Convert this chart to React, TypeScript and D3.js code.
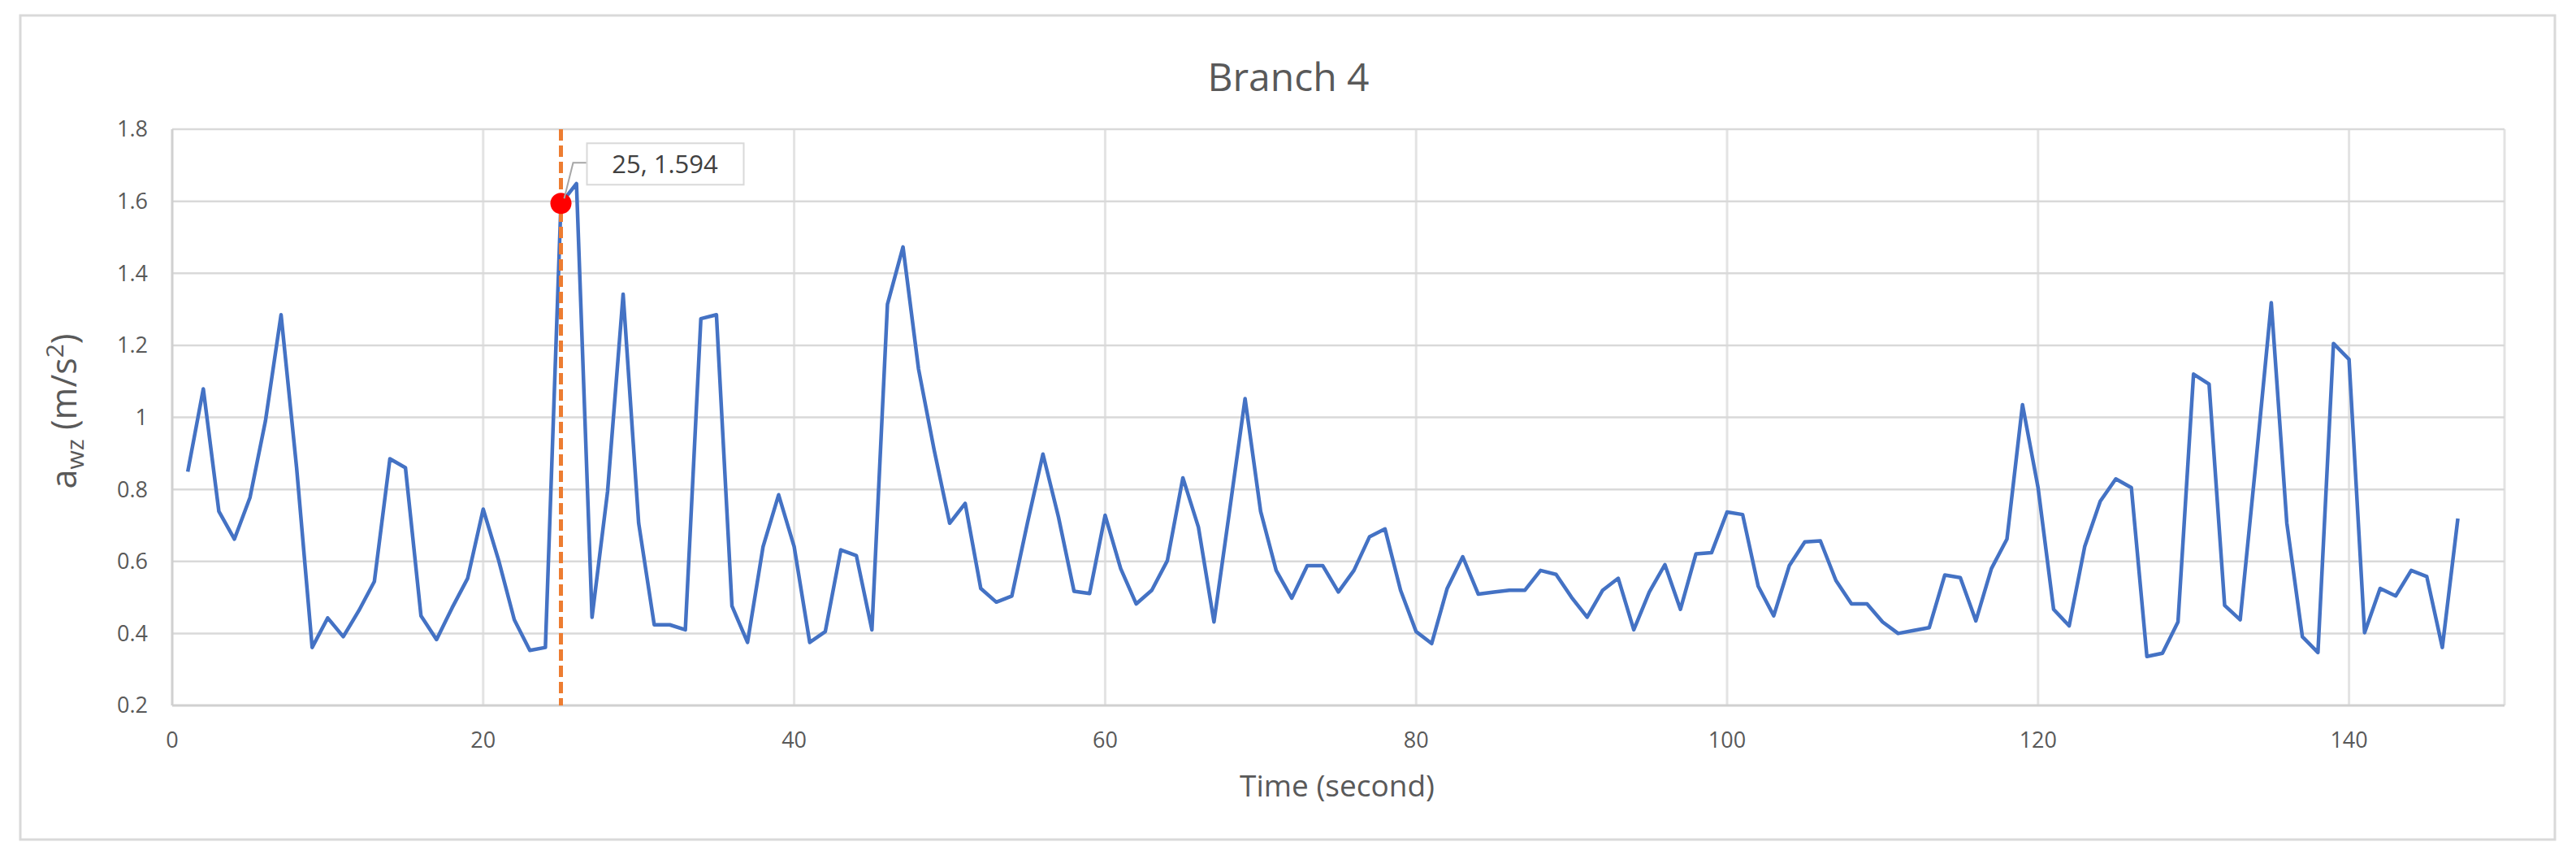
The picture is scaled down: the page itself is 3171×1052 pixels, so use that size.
import { useEffect, useRef } from "react";
import * as d3 from "d3";

// a_wz readings, one per second (t = 1 .. 147)
const awz = [
  0.849, 1.079, 0.739, 0.662, 0.777, 0.991, 1.285, 0.86, 0.361, 0.443,
  0.391, 0.463, 0.544, 0.885, 0.86, 0.449, 0.383, 0.471, 0.553, 0.745,
  0.602, 0.438, 0.353, 0.361, 1.594, 1.649, 0.445, 0.794, 1.342, 0.706,
  0.424, 0.424, 0.41, 1.274, 1.285, 0.476, 0.375, 0.641, 0.785, 0.641,
  0.375, 0.405, 0.632, 0.616, 0.41, 1.314, 1.473, 1.134, 0.91, 0.706,
  0.761, 0.525, 0.487, 0.504, 0.706, 0.898, 0.723, 0.517, 0.511, 0.728,
  0.58, 0.482, 0.52, 0.602, 0.832, 0.695, 0.432, 0.74, 1.052, 0.739,
  0.575, 0.498, 0.588, 0.588, 0.515, 0.575, 0.668, 0.69, 0.52, 0.405,
  0.372, 0.525, 0.613, 0.509, 0.515, 0.52, 0.52, 0.575, 0.564, 0.5,
  0.445, 0.52, 0.553, 0.41, 0.515, 0.591, 0.467, 0.621, 0.624, 0.737,
  0.73, 0.531, 0.449, 0.588, 0.654, 0.657, 0.547, 0.482, 0.482, 0.432,
  0.4, 0.408, 0.416, 0.562, 0.555, 0.435, 0.58, 0.662, 1.035, 0.805,
  0.467, 0.421, 0.641, 0.767, 0.829, 0.805, 0.336, 0.345, 0.432, 1.12,
  1.092, 0.478, 0.438, 0.87, 1.318, 0.706, 0.391, 0.347, 1.205, 1.161,
  0.402, 0.525, 0.504, 0.575, 0.558, 0.361, 0.719,
];
const timeSec = awz.map((_, i) => i + 1);

const xTicks = [0, 20, 40, 60, 80, 100, 120, 140];
const yTicks = [0.2, 0.4, 0.6, 0.8, 1, 1.2, 1.4, 1.6, 1.8];

const chartTitle = "Branch 4";
const xTitle = "Time (second)";
const markerTime = 25;
const markerValue = 1.594;
const markerLabel = "25, 1.594";

const FONT = "'Open Sans', 'Liberation Sans', sans-serif";

export default function App() {
  const svgRef = useRef<SVGSVGElement>(null);

  useEffect(() => {
    if (!svgRef.current) return;
    drawChart();
  }, []);

  const drawChart = () => {
    const svg = d3.select(svgRef.current);
    svg.selectAll("*").remove();

    const width = 3171;
    const height = 1052;
    const margin = { top: 159, right: 88, bottom: 184, left: 212 };

    svg.append("rect").attr("width", width).attr("height", height).attr("fill", "#ffffff");

    // outer chart frame
    svg
      .append("rect")
      .attr("x", 25)
      .attr("y", 19)
      .attr("width", 3120)
      .attr("height", 1014)
      .attr("fill", "none")
      .attr("stroke", "#d9d9d9")
      .attr("stroke-width", 3);

    const xScale = d3
      .scaleLinear()
      .domain([0, 150])
      .range([margin.left, width - margin.right]);

    const yScale = d3
      .scaleLinear()
      .domain([0.2, 1.8])
      .range([height - margin.bottom, margin.top]);

    // vertical gridlines (incl. right edge at 150)
    svg
      .append("g")
      .selectAll("line")
      .data([...xTicks.slice(1), 150])
      .enter()
      .append("line")
      .attr("x1", (d) => xScale(d))
      .attr("x2", (d) => xScale(d))
      .attr("y1", yScale(1.8))
      .attr("y2", yScale(0.2))
      .attr("stroke", "#e3e3e3")
      .attr("stroke-width", 3);

    // horizontal gridlines
    svg
      .append("g")
      .selectAll("line")
      .data(yTicks.slice(1))
      .enter()
      .append("line")
      .attr("x1", xScale(0))
      .attr("x2", xScale(150))
      .attr("y1", (d) => yScale(d))
      .attr("y2", (d) => yScale(d))
      .attr("stroke", "#d9d9d9")
      .attr("stroke-width", 2.5);

    // axis lines
    svg
      .append("line")
      .attr("x1", xScale(0))
      .attr("x2", xScale(150))
      .attr("y1", yScale(0.2))
      .attr("y2", yScale(0.2))
      .attr("stroke", "#d0d0d0")
      .attr("stroke-width", 3);
    svg
      .append("line")
      .attr("x1", xScale(0))
      .attr("x2", xScale(0))
      .attr("y1", yScale(1.8))
      .attr("y2", yScale(0.2))
      .attr("stroke", "#d0d0d0")
      .attr("stroke-width", 3);

    // tick labels
    svg
      .append("g")
      .selectAll("text")
      .data(yTicks)
      .enter()
      .append("text")
      .attr("x", 182)
      .attr("y", (d) => yScale(d))
      .attr("dy", "0.35em")
      .attr("text-anchor", "end")
      .attr("fill", "#595959")
      .style("font-family", FONT)
      .style("font-size", "27px")
      .text((d) => d3.format("~g")(d));

    svg
      .append("g")
      .selectAll("text")
      .data(xTicks)
      .enter()
      .append("text")
      .attr("x", (d) => xScale(d))
      .attr("y", 920)
      .attr("text-anchor", "middle")
      .attr("fill", "#595959")
      .style("font-family", FONT)
      .style("font-size", "27px")
      .text((d) => String(d));

    // data line
    const line = d3
      .line<number>()
      .x((_, i) => xScale(timeSec[i]))
      .y((d) => yScale(d));

    svg
      .append("path")
      .datum(awz)
      .attr("d", line)
      .attr("fill", "none")
      .attr("stroke", "#4472c4")
      .attr("stroke-width", 4.5)
      .attr("stroke-linejoin", "round");

    // marker line at t = 25
    svg
      .append("line")
      .attr("x1", xScale(markerTime))
      .attr("x2", xScale(markerTime))
      .attr("y1", yScale(1.8))
      .attr("y2", yScale(0.2))
      .attr("stroke", "#ed7d31")
      .attr("stroke-width", 5)
      .attr("stroke-dasharray", "14 6");

    const mx = xScale(markerTime);
    const my = yScale(markerValue);

    svg
      .append("circle")
      .attr("cx", mx)
      .attr("cy", my)
      .attr("r", 13)
      .attr("fill", "#ff0000");

    // data label with leader line
    svg
      .append("polyline")
      .attr("points", `${mx + 4},${my - 6} ${mx + 15},${my - 50} ${mx + 32},${my - 50}`)
      .attr("fill", "none")
      .attr("stroke", "#a6a6a6")
      .attr("stroke-width", 2);

    svg
      .append("rect")
      .attr("x", mx + 32)
      .attr("y", my - 74)
      .attr("width", 193)
      .attr("height", 51)
      .attr("fill", "#ffffff")
      .attr("stroke", "#d9d9d9")
      .attr("stroke-width", 2);

    svg
      .append("text")
      .attr("x", mx + 32 + 96)
      .attr("y", my - 48)
      .attr("dy", "0.35em")
      .attr("text-anchor", "middle")
      .attr("fill", "#404040")
      .style("font-family", FONT)
      .style("font-size", "31px")
      .text(markerLabel);

    // titles
    svg
      .append("text")
      .attr("x", 1586)
      .attr("y", 112)
      .attr("text-anchor", "middle")
      .attr("fill", "#595959")
      .style("font-family", FONT)
      .style("font-size", "48px")
      .text(chartTitle);

    svg
      .append("text")
      .attr("x", 1646)
      .attr("y", 980)
      .attr("text-anchor", "middle")
      .attr("fill", "#595959")
      .style("font-family", FONT)
      .style("font-size", "37px")
      .text(xTitle);

    const yTitle = svg
      .append("text")
      .attr("transform", "translate(94, 506) rotate(-90)")
      .attr("text-anchor", "middle")
      .attr("fill", "#595959")
      .style("font-family", FONT)
      .style("font-size", "43px");
    yTitle.append("tspan").text("a");
    yTitle.append("tspan").attr("dy", 9).style("font-size", "30px").text("wz");
    yTitle.append("tspan").attr("dy", -9).text(" (m/s");
    yTitle.append("tspan").attr("dy", -16).style("font-size", "30px").text("2");
    yTitle.append("tspan").attr("dy", 16).text(")");
  };

  return (
    <div style={{ position: "absolute", left: 0, top: 0 }}>
      <svg ref={svgRef} width={3171} height={1052} viewBox="0 0 3171 1052" />
    </div>
  );
}
